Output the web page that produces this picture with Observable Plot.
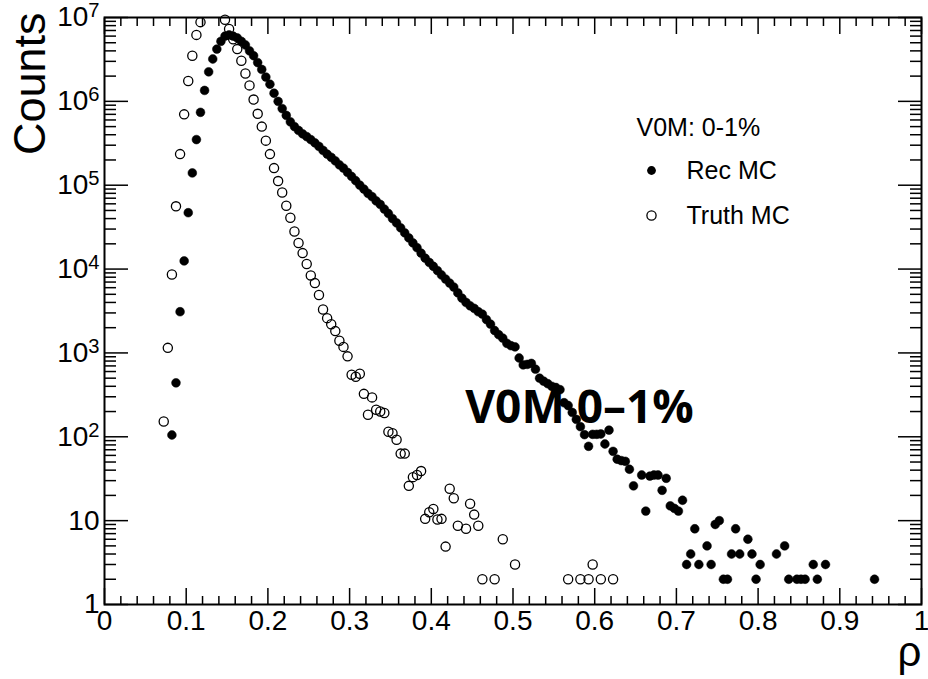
<!DOCTYPE html>
<html><head><meta charset="utf-8">
<script src="https://cdn.jsdelivr.net/npm/d3@7"></script>
<script src="https://cdn.jsdelivr.net/npm/@observablehq/plot@0.6"></script>
<style>
html,body{margin:0;padding:0;background:#fff;}
#chart{width:928px;height:679px;}
</style></head><body><div id="chart"></div>
<script>
// ---- data (bin centres, counts) ----
const recX = [0.0825,0.0875,0.0925,0.0975,0.1025,0.1075,0.1125,0.1175,0.1225,0.1275,0.1325,0.1375,0.1425,0.1475,0.1525,0.1575,0.1625,0.1675,0.1725,0.1775,0.1825,0.1875,0.1925,0.1975,0.2025,0.2075,0.2125,0.2175,0.2225,0.2275,0.2325,0.2375,0.2425,0.2475,0.2525,0.2575,0.2625,0.2675,0.2725,0.2775,0.2825,0.2875,0.2925,0.2975,0.3025,0.3075,0.3125,0.3175,0.3225,0.3275,0.3325,0.3375,0.3425,0.3475,0.3525,0.3575,0.3625,0.3675,0.3725,0.3775,0.3825,0.3875,0.3925,0.3975,0.4025,0.4075,0.4125,0.4175,0.4225,0.4275,0.4325,0.4375,0.4425,0.4475,0.4525,0.4575,0.4625,0.4675,0.4725,0.4775,0.4825,0.4875,0.4925,0.4975,0.5025,0.5075,0.5125,0.5175,0.5225,0.5275,0.5325,0.5375,0.5425,0.5475,0.5525,0.5575,0.5625,0.5675,0.5725,0.5775,0.5825,0.5875,0.5925,0.5975,0.6025,0.6075,0.6125,0.6175,0.6225,0.6275,0.6325,0.6375,0.6425,0.6475,0.6575,0.6625,0.6675,0.6725,0.6775,0.6825,0.6875,0.6925,0.6975,0.7025,0.7075,0.7125,0.7175,0.7225,0.7275,0.7375,0.7425,0.7475,0.7525,0.7575,0.7625,0.7675,0.7725,0.7775,0.7875,0.7925,0.7975,0.8025,0.8225,0.8325,0.8375,0.8475,0.8525,0.8575,0.8675,0.8725,0.8825,0.9425];
const recY = [105,440,3100,12500,47000,140000,350000,740000,1.35e6,2.25e6,3.2e6,4.2e6,5.2e6,6.0e6,6.2e6,6.0e6,5.7e6,5.2e6,4.7e6,4.0e6,3.5e6,2.9e6,2.4e6,1.95e6,1.6e6,1.25e6,1.0e6,8.2e5,6.8e5,5.7e5,5.0e5,4.5e5,4.1e5,3.8e5,3.5e5,3.2e5,2.9e5,2.6e5,2.35e5,2.15e5,1.95e5,1.75e5,1.6e5,1.42e5,1.27e5,1.13e5,1.0e5,9.0e4,8.0e4,7.3e4,6.5e4,5.9e4,5.2e4,4.6e4,4.0e4,3.55e4,3.1e4,2.7e4,2.35e4,2.05e4,1.8e4,1.55e4,1.35e4,1.2e4,1.08e4,9600,8500,7600,6800,6100,5200,4500,4000,3650,3400,3100,2900,2500,2200,1850,1650,1500,1300,1220,1180,870,720,730,750,640,500,460,430,400,387,365,255,236,195,161,132,106,77,107,107,108,82,120,67,54,52,51,41,26,35,13,34,35,35,23,32,15,14,13,17.5,3,4,8,3,5,3,9,10,2,2,4,8,4,6,4,2,3,4,5,2,2,2,2,3,2,3,2];
const truthX = [0.0725,0.0775,0.0825,0.0875,0.0925,0.0975,0.1025,0.1075,0.1125,0.1175,0.1475,0.1525,0.1575,0.1625,0.1675,0.1725,0.1775,0.1825,0.1875,0.1925,0.1975,0.2025,0.2075,0.2125,0.2175,0.2225,0.2275,0.2325,0.2375,0.2425,0.2475,0.2525,0.2575,0.2625,0.2675,0.2725,0.2775,0.2825,0.2875,0.2925,0.2975,0.3025,0.3075,0.3125,0.3175,0.3225,0.3275,0.3325,0.3375,0.3425,0.3475,0.3525,0.3575,0.3625,0.3675,0.3725,0.3775,0.3825,0.3875,0.3925,0.3975,0.4025,0.4075,0.4125,0.4175,0.4225,0.4275,0.4325,0.4425,0.4475,0.4525,0.4575,0.4625,0.4775,0.4875,0.5025,0.5675,0.5825,0.5925,0.5975,0.6075,0.6225];
const truthY = [152,1150,8600,56000,235000,700000,1.75e6,3.5e6,6.2e6,8.8e6,9.4e6,7.3e6,5.5e6,4.2e6,3.05e6,2.15e6,1.55e6,1.05e6,7.1e5,5.0e5,3.4e5,2.35e5,1.6e5,1.12e5,8.2e4,5.7e4,4.1e4,2.8e4,2.05e4,1.55e4,1.15e4,8400,6800,4900,3300,2600,2200,1820,1400,1180,910,550,520,565,325,183,295,210,200,192,115,110,92,63,63,26,33,35,39,10.5,12.6,13.8,10.3,10.5,4.9,24,18.5,8.7,8.0,15.9,11.8,8.7,2,2,6,3,2,2,2,3,2,2];

const xTicks = [0,0.1,0.2,0.3,0.4,0.5,0.6,0.7,0.8,0.9,1];
const xTickLabels = ["0","0.1","0.2","0.3","0.4","0.5","0.6","0.7","0.8","0.9","1"];
const yTicks = [1,10,100,1e3,1e4,1e5,1e6,1e7];
const yTickLabels = ["1","10","10²","10³","10⁴","10⁵","10⁶","10⁷"];
const xTitle = "ρ";
const yTitle = "Counts";
const legendTitle = "V0M: 0-1%";
const seriesNames = ["Rec MC", "Truth MC"];
const annotation = "V0M 0–1%";

// ---- tables built from the arrays ----
const rec = recX.map((x, i) => ({x, y: recY[i]}));
const truth = truthX.map((x, i) => ({x, y: truthY[i]}));
const xMinor = d3.range(0, 51).map(i => i / 50).filter(v => !xTicks.some(t => Math.abs(t - v) < 1e-9));
const yMinor = d3.range(0, 7).flatMap(e => d3.range(2, 10).map(m => m * 10 ** e));

const tickStyle = {stroke: "black", strokeWidth: 1.5, fill: "none", label: null};
const txt = {text: d => d, lineAnchor: "middle"};

const chart = Plot.plot({
  width: 928,
  height: 679,
  marginLeft: 104,
  marginRight: 7,
  marginTop: 17,
  marginBottom: 75,
  style: {fontFamily: "'Liberation Sans', Arial, sans-serif", fontSize: "28px", background: "white", color: "black"},
  x: {domain: [0, 1]},
  y: {type: "log", domain: [1, 1e7]},
  marks: [
    // inward ticks on all four sides
    Plot.axisX(xTicks, {anchor: "bottom", tickSize: -16, ...tickStyle}),
    Plot.axisX(xMinor, {anchor: "bottom", tickSize: -8, ...tickStyle}),
    Plot.axisX(xTicks, {anchor: "top", tickSize: -16, ...tickStyle}),
    Plot.axisX(xMinor, {anchor: "top", tickSize: -8, ...tickStyle}),
    Plot.axisY(yTicks, {anchor: "left", tickSize: -24, ...tickStyle}),
    Plot.axisY(yMinor, {anchor: "left", tickSize: -12, ...tickStyle}),
    Plot.axisY(yTicks, {anchor: "right", tickSize: -24, ...tickStyle}),
    Plot.axisY(yMinor, {anchor: "right", tickSize: -12, ...tickStyle}),
    // tick labels
    Plot.axisX(xTicks, {anchor: "bottom", tickSize: 0, tickPadding: 6, label: null,
      tickFormat: d => xTickLabels[xTicks.indexOf(d)]}),
    Plot.axisY(yTicks, {anchor: "left", tickSize: 0, tickPadding: 5, label: null,
      tickFormat: d => yTickLabels[yTicks.indexOf(d)]}),
    Plot.frame({stroke: "black", strokeWidth: 2}),
    // data
    Plot.dot(rec, {x: "x", y: "y", r: 4.4, fill: "black", stroke: "black", strokeWidth: 0.5}),
    Plot.dot(truth, {x: "x", y: "y", r: 4.6, fill: "none", stroke: "black", strokeWidth: 1.3}),
    // axis titles
    Plot.text([yTitle], {...txt, frameAnchor: "top-left", dx: -74, dy: -5, rotate: -90, textAnchor: "end", fontSize: 45}),
    Plot.text([xTitle], {...txt, frameAnchor: "bottom-right", dx: 0, dy: 48, textAnchor: "end", fontSize: 42}),
    // legend
    Plot.text([legendTitle], {...txt, frameAnchor: "top-left", dx: 532, dy: 110, textAnchor: "start", fontSize: 25}),
    Plot.dot([seriesNames[0]], {frameAnchor: "top-left", dx: 547, dy: 153, r: 4.4, fill: "black"}),
    Plot.text([seriesNames[0]], {...txt, frameAnchor: "top-left", dx: 582, dy: 153, textAnchor: "start", fontSize: 25}),
    Plot.dot([seriesNames[1]], {frameAnchor: "top-left", dx: 547, dy: 198, r: 4.6, fill: "none", stroke: "black", strokeWidth: 1.3}),
    Plot.text([seriesNames[1]], {...txt, frameAnchor: "top-left", dx: 582, dy: 198, textAnchor: "start", fontSize: 25}),
    // big annotation
    Plot.text([annotation], {...txt, frameAnchor: "top-left", dx: 475, dy: 391, textAnchor: "middle", fontSize: 46,
      fontWeight: "bold", fontFamily: "'Open Sans', sans-serif", fill: "black"})
  ]
});

// render the power-of-ten labels with a raised exponent (ROOT style)
const supMap = {"⁰":"0","¹":"1","²":"2","³":"3","⁴":"4","⁵":"5","⁶":"6","⁷":"7","⁸":"8","⁹":"9"};
d3.select(chart).selectAll("text").each(function() {
  const t = this.textContent;
  const m = /^10([⁰¹²³⁴⁵⁶⁷⁸⁹]+)$/.exec(t);
  if (!m) return;
  const sel = d3.select(this);
  sel.text("10");
  sel.append("tspan").attr("dy", "-0.45em").attr("font-size", "0.72em")
    .text([...m[1]].map(c => supMap[c]).join(""));
});

document.getElementById("chart").appendChild(chart);
</script>
</body></html>
